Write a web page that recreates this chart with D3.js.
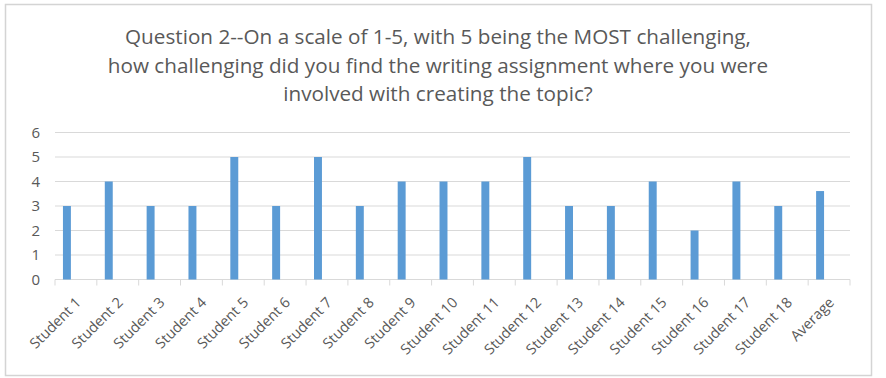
<!DOCTYPE html>
<html>
<head>
<meta charset="utf-8">
<script src="https://cdn.jsdelivr.net/npm/d3@7"></script>
<style>
  body { margin: 0; background: #fff; }
  text { font-family: "Open Sans", "Noto Sans", sans-serif; fill: #595959; }
</style>
</head>
<body>
<script>
var categories = ["Student 1","Student 2","Student 3","Student 4","Student 5","Student 6",
  "Student 7","Student 8","Student 9","Student 10","Student 11","Student 12",
  "Student 13","Student 14","Student 15","Student 16","Student 17","Student 18","Average"];
var values = [3,4,3,3,5,3,5,3,4,4,4,5,3,3,4,2,4,3,3.61];
var yTicks = [0,1,2,3,4,5,6];
var titleLines = [
  "Question 2--On a scale of 1-5, with 5 being the MOST challenging,",
  "how challenging did you find the writing assignment where you were",
  "involved with creating the topic?"
];

var width = 886, height = 378;

var svg = d3.select("body").append("svg")
    .attr("width", width)
    .attr("height", height);

// chart frame
svg.append("rect")
    .attr("x", 5.5).attr("y", 4.5)
    .attr("width", 866).attr("height", 371)
    .attr("fill", "#fff")
    .attr("stroke", "#d4d4d4")
    .attr("stroke-width", 1.5);

// title
svg.append("g")
  .selectAll("text")
  .data(titleLines)
  .enter()
  .append("text")
    .attr("x", 438)
    .attr("y", function(d, i){ return 44 + i * 28.5; })
    .attr("text-anchor", "middle")
    .style("font-size", "20.7px")
    .text(function(d){ return d; });

var x = d3.scaleBand()
    .domain(categories)
    .range([55, 850])
    .padding(0);

var y = d3.scaleLinear()
    .domain([0, 6])
    .range([279.5, 132.5]);

// gridlines
svg.append("g")
  .selectAll("line")
  .data(yTicks)
  .enter()
  .append("line")
    .attr("x1", 55).attr("x2", 850)
    .attr("y1", function(d){ return y(d); })
    .attr("y2", function(d){ return y(d); })
    .attr("stroke", "#d9d9d9")
    .attr("stroke-width", 1);

// y labels
svg.append("g")
  .selectAll("text")
  .data(yTicks)
  .enter()
  .append("text")
    .attr("x", 40)
    .attr("y", function(d){ return y(d); })
    .attr("dy", "0.36em")
    .attr("text-anchor", "end")
    .style("font-size", "15px")
    .text(function(d){ return d; });

// x tick marks at category boundaries
var bounds = categories.map(function(c){ return x(c); }).concat([x.range()[1]]);
svg.append("g")
  .selectAll("line")
  .data(bounds)
  .enter()
  .append("line")
    .attr("x1", function(d){ return d; })
    .attr("x2", function(d){ return d; })
    .attr("y1", y(0))
    .attr("y2", y(0) + 6)
    .attr("stroke", "#d9d9d9");

// bars
var bw = x.bandwidth();
svg.append("g")
  .selectAll("rect")
  .data(values)
  .enter()
  .append("rect")
    .attr("x", function(d, i){ return x(categories[i]) + bw * 0.19; })
    .attr("width", bw * 0.19)
    .attr("y", function(d){ return y(d); })
    .attr("height", function(d){ return y(0) - y(d); })
    .attr("fill", "#5b9bd5");

// x labels
svg.append("g")
  .selectAll("text")
  .data(categories)
  .enter()
  .append("text")
    .attr("transform", function(d){
      return "translate(" + (x(d) + bw / 2 + 6) + "," + (y(0) + 24) + ") rotate(-45)";
    })
    .attr("text-anchor", "end")
    .style("font-size", "14.5px")
    .text(function(d){ return d; });
</script>
</body>
</html>
